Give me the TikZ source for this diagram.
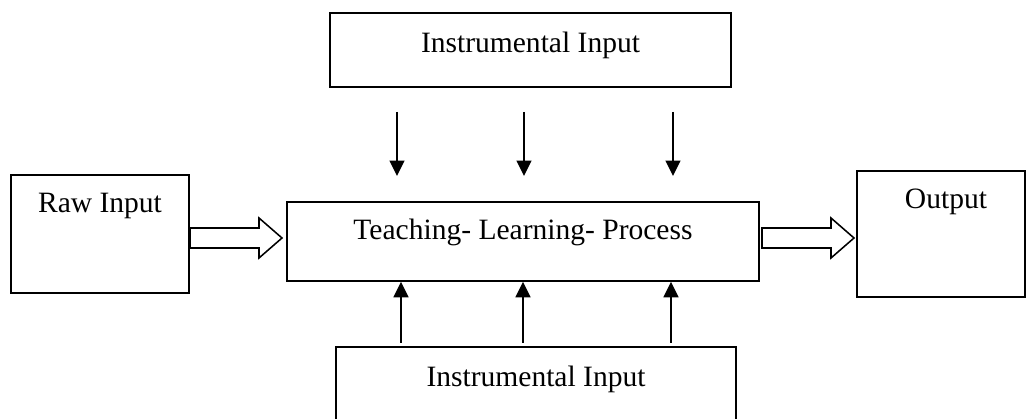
\documentclass[tikz,border=0pt]{standalone}
\usepackage{fontspec}
\setmainfont{Liberation Serif}
\usetikzlibrary{positioning,calc,arrows.meta}

\newcommand{\fatarrow}[2]{%
  \draw[hollow] ($(#1)+(0,-10)$) -- ($(#2)+(-23,-10)$) -- ($(#2)+(-23,-20)$)
    -- (#2) -- ($(#2)+(-23,20)$) -- ($(#2)+(-23,10)$) -- ($(#1)+(0,10)$) -- cycle;}

\begin{document}
\begin{tikzpicture}[
      x=0.025cm, y=-0.025cm,
      box/.style={
          draw,
          rectangle,
          line width=1.1pt,
          inner sep=0pt
        },
      caption/.style={
          font=\fontsize{21}{25}\selectfont
        },
      feed/.style={
          line width=1.4pt,
          -{Triangle[width=10.5pt,length=11pt]}
        },
      hollow/.style={
          draw,
          line width=1.1pt,
          fill=white,
          line join=miter
        }
    ]
    \useasboundingbox (0,0) rectangle (1027,419);

    \node[box, minimum width=10.025cm, minimum height=1.85cm,
      label={[caption, yshift=0.12cm]center:Instrumental Input}] (instop) at (530.5,50) {};
    \node[box, minimum width=4.45cm, minimum height=2.95cm,
      label={[caption, yshift=0.7cm]center:Raw Input}] (raw) at (100,234) {};
    \node[box, minimum width=11.8cm, minimum height=1.975cm,
      label={[caption, yshift=0.22cm]center:Teaching- Learning- Process}] (tlp) at (523,241.5) {};
    \node[box, minimum width=4.2cm, minimum height=3.15cm,
      label={[caption, xshift=0.125cm, yshift=0.8cm]center:Output}] (out) at (941,234) {};
    \node[box, minimum width=10cm, minimum height=2.325cm,
      label={[caption, yshift=0.35cm]center:Instrumental Input}] (insbot) at (536,393.5) {};

    % inputs from above and below
    \foreach \x [count=\i] in {397,524,673}
      {\coordinate (dn\i) at (\x,112);
       \coordinate (dt\i) at (\x,176);
       \draw[feed] (dn\i) -- (dt\i);
      }
    \foreach \x [count=\i] in {401,523,671}
      {\coordinate (up\i) at (\x,343);
       \draw[feed] (up\i) -- (up\i |- tlp.south);
      }

    % hollow arrows
    \coordinate (rawtail) at (190,238);
    \coordinate (tlphead) at (282,238);
    \coordinate (tlptail) at (762,238);
    \coordinate (outhead) at (854,238);
    \fatarrow{rawtail}{tlphead}
    \fatarrow{tlptail}{outhead}
  \end{tikzpicture}
\end{document}
